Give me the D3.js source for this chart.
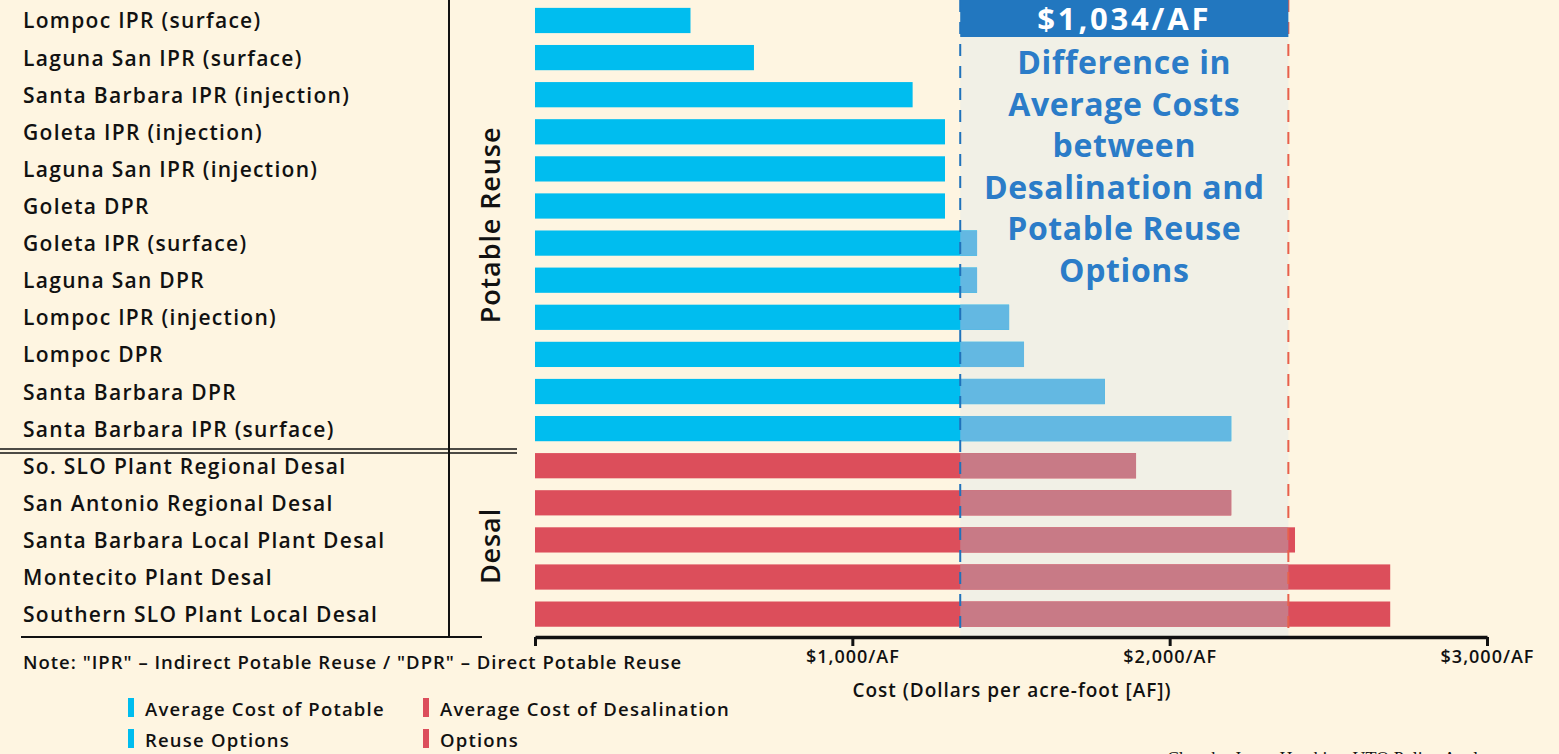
<!DOCTYPE html>
<html>
<head>
<meta charset="utf-8">
<script src="https://cdn.jsdelivr.net/npm/d3@7"></script>
<style>
  html, body { margin: 0; padding: 0; background: #fef5e1; }
  svg { display: block; font-family: "Open Sans", "Noto Sans", sans-serif; }
</style>
</head>
<body>
<svg id="chart" width="1559" height="754"></svg>
<script>
// categories, top to bottom
const reuseNames = ['Lompoc IPR (surface)', 'Laguna San IPR (surface)', 'Santa Barbara IPR (injection)',
  'Goleta IPR (injection)', 'Laguna San IPR (injection)', 'Goleta DPR', 'Goleta IPR (surface)',
  'Laguna San DPR', 'Lompoc IPR (injection)', 'Lompoc DPR', 'Santa Barbara DPR', 'Santa Barbara IPR (surface)'];
const reuseCosts = [490, 690, 1190, 1292, 1292, 1292, 1393, 1393, 1494, 1541, 1796, 2194];

const desalNames = ['So. SLO Plant Regional Desal', 'San Antonio Regional Desal', 'Santa Barbara Local Plant Desal',
  'Montecito Plant Desal', 'Southern SLO Plant Local Desal'];
const desalCosts = [1894, 2194, 2395, 2695, 2695];

const avgReuse = 1340;
const avgDesal = 2374;
const tickValues = [0, 1000, 2000, 3000];
const tickLabels = ['', '$1,000/AF', '$2,000/AF', '$3,000/AF'];
const calloutLines = ['Difference in', 'Average Costs', 'between', 'Desalination and', 'Potable Reuse', 'Options'];

const rows = reuseNames.map((n, i) => ({name: n, value: reuseCosts[i], group: 'reuse'}))
  .concat(desalNames.map((n, i) => ({name: n, value: desalCosts[i], group: 'desal'})));

const svg = d3.select('#chart');
const axisY = 637;

const x = d3.scaleLinear().domain([0, 3000]).range([535, 1487]);
const y = d3.scaleBand().domain(rows.map(d => d.name)).range([-4, 638.6]).paddingInner(0.32).paddingOuter(0.32);

const col = {
  reuse: '#00bdef', reuseIn: '#63b8e2',
  desal: '#dc4e5b', desalIn: '#c87a86',
  shade: '#f1f0e6', head: '#2277bf', text: '#2b7cc8'
};

// shaded difference band
svg.append('rect')
  .attr('x', x(avgReuse)).attr('y', 0)
  .attr('width', x(avgDesal) - x(avgReuse)).attr('height', axisY)
  .attr('fill', col.shade);

// bars
const bars = svg.append('g');
bars.selectAll('.bar').data(rows).enter().append('rect')
  .attr('x', x(0))
  .attr('y', d => y(d.name))
  .attr('width', d => x(d.value) - x(0))
  .attr('height', y.bandwidth())
  .attr('fill', d => col[d.group]);

// part of the bar inside the shaded band
bars.selectAll('.inner').data(rows.filter(d => d.value > avgReuse)).enter().append('rect')
  .attr('x', x(avgReuse))
  .attr('y', d => y(d.name))
  .attr('width', d => x(Math.min(d.value, avgDesal)) - x(avgReuse))
  .attr('height', y.bandwidth())
  .attr('fill', d => d.group === 'reuse' ? col.reuseIn : col.desalIn);

// dashed average lines
svg.append('line')
  .attr('x1', x(avgReuse)).attr('x2', x(avgReuse))
  .attr('y1', 0).attr('y2', axisY)
  .attr('stroke', '#1f72bb').attr('stroke-width', 2).attr('stroke-dasharray', '12,10');
svg.append('line')
  .attr('x1', x(avgDesal)).attr('x2', x(avgDesal))
  .attr('y1', 0).attr('y2', axisY)
  .attr('stroke', '#e8604c').attr('stroke-width', 2).attr('stroke-dasharray', '12,10');

// header box
svg.append('rect')
  .attr('x', x(avgReuse)).attr('y', 0)
  .attr('width', x(avgDesal) - x(avgReuse)).attr('height', 37)
  .attr('fill', col.head);
const midX = (x(avgReuse) + x(avgDesal)) / 2;
svg.append('text')
  .attr('x', midX).attr('y', 30)
  .attr('text-anchor', 'middle')
  .attr('fill', '#fff').attr('font-weight', 700).attr('font-size', 31)
  .attr('letter-spacing', 2.8)
  .text('$' + d3.format(',')(avgDesal - avgReuse) + '/AF');

svg.append('g').selectAll('text').data(calloutLines).enter().append('text')
  .attr('x', midX)
  .attr('y', (d, i) => 74 + i * 41.6)
  .attr('text-anchor', 'middle')
  .attr('fill', col.text).attr('font-weight', 700).attr('font-size', 32)
  .attr('letter-spacing', 0.6)
  .text(d => d);

// category labels
svg.append('g').selectAll('text').data(rows).enter().append('text')
  .attr('x', 23)
  .attr('y', d => y(d.name) + y.bandwidth() / 2 + 8)
  .attr('font-size', 21).attr('font-weight', 600).attr('fill', '#111')
  .attr('letter-spacing', 1.3)
  .text(d => d.name);

// separators
svg.append('line').attr('x1', 449).attr('x2', 449).attr('y1', 0).attr('y2', axisY)
  .attr('stroke', '#111').attr('stroke-width', 2);
svg.append('line').attr('x1', 0).attr('x2', 517).attr('y1', 449).attr('y2', 449)
  .attr('stroke', '#111').attr('stroke-width', 1.6);
svg.append('line').attr('x1', 0).attr('x2', 517).attr('y1', 453).attr('y2', 453)
  .attr('stroke', '#111').attr('stroke-width', 1.6);
svg.append('line').attr('x1', 21).attr('x2', 482).attr('y1', axisY).attr('y2', axisY)
  .attr('stroke', '#111').attr('stroke-width', 2);

// group labels
[['Potable Reuse', 225], ['Desal', 546]].forEach(g => {
  svg.append('text')
    .attr('transform', `translate(500,${g[1]}) rotate(-90)`)
    .attr('text-anchor', 'middle')
    .attr('font-size', 27).attr('font-weight', 600).attr('fill', '#111')
    .attr('letter-spacing', 0.9)
    .text(g[0]);
});

// x axis
const axis = svg.append('g')
  .attr('transform', `translate(0,${axisY})`)
  .call(d3.axisBottom(x).tickValues(tickValues).tickFormat((d, i) => tickLabels[i]).tickSize(9).tickSizeOuter(0));
axis.select('.domain').attr('stroke', '#111').attr('stroke-width', 3.5);
axis.selectAll('.tick line').attr('stroke', '#111').attr('stroke-width', 3);
axis.selectAll('.tick text')
  .attr('y', 13).attr('dy', '0.71em')
  .attr('font-family', '"Open Sans", sans-serif').attr('font-size', 18).attr('font-weight', 600)
  .attr('letter-spacing', 1)
  .attr('fill', '#111');

svg.append('text')
  .attr('x', 1012).attr('y', 697)
  .attr('text-anchor', 'middle')
  .attr('font-size', 19).attr('font-weight', 600).attr('fill', '#111')
  .attr('letter-spacing', 1)
  .text('Cost (Dollars per acre-foot [AF])');

// note
svg.append('text')
  .attr('x', 23).attr('y', 669)
  .attr('font-size', 18.5).attr('font-weight', 600).attr('fill', '#111')
  .attr('letter-spacing', 1)
  .text('Note: "IPR" \u2013 Indirect Potable Reuse / "DPR" \u2013 Direct Potable Reuse');

// legend
const legend = [
  {color: col.reuse, x: 128, lines: ['Average Cost of Potable', 'Reuse Options']},
  {color: col.desal, x: 423, lines: ['Average Cost of Desalination', 'Options']}
];
legend.forEach(l => {
  l.lines.forEach((t, i) => {
    svg.append('rect').attr('x', l.x).attr('y', 698 + i * 31).attr('width', 6).attr('height', 19).attr('fill', l.color);
    svg.append('text').attr('x', l.x + 17).attr('y', 716 + i * 31)
      .attr('font-size', 18.5).attr('font-weight', 600).attr('fill', '#111')
      .attr('letter-spacing', 1.2)
      .text(t);
  });
});

// credit (cut off at the bottom)
svg.append('text')
  .attr('x', 1167).attr('y', 765)
  .attr('font-family', '"Liberation Serif", serif').attr('font-size', 18).attr('fill', '#111')
  .text('Chart by Jenna Hawkins, UTO Policy Analyst');
</script>
</body>
</html>
